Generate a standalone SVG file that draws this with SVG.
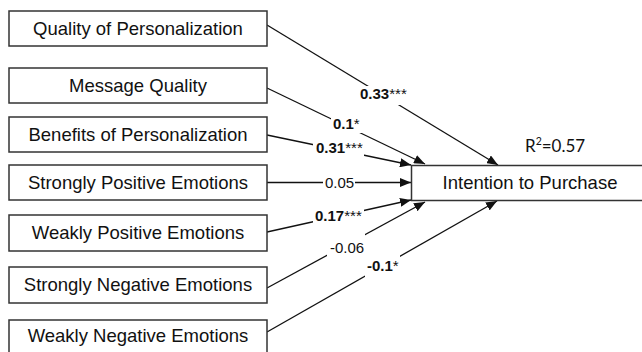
<svg xmlns="http://www.w3.org/2000/svg" width="642" height="352" viewBox="0 0 642 352">
<style>
.box{fill:#fff;stroke:#333;stroke-width:1.5}
.bt{font-family:"Liberation Sans",Arial,sans-serif;font-size:18.5px;fill:#111;text-anchor:middle}
.ln{stroke:#111;stroke-width:1.3;fill:none;marker-end:url(#ah)}
.lb{font-family:"Liberation Sans",Arial,sans-serif;font-size:15px;fill:#111}
.b{font-weight:bold}
.n{font-weight:normal}
.bg{fill:#fff}
</style>
<defs>
<marker id="ah" viewBox="0 0 11 9" refX="11" refY="4.5" markerWidth="11" markerHeight="9" markerUnits="userSpaceOnUse" orient="auto">
<path d="M0,0 L11,4.5 L0,9 z" fill="#111"/>
</marker>
</defs>
<rect width="642" height="352" fill="#fff"/>
<g id="connectors">
<line class="ln" x1="267" y1="25" x2="498" y2="165"/>
<line class="ln" x1="267" y1="88" x2="425" y2="164"/>
<line class="ln" x1="267" y1="135" x2="411" y2="165"/>
<line class="ln" x1="267" y1="182.5" x2="411" y2="182.5"/>
<line class="ln" x1="267" y1="232" x2="411" y2="200"/>
<line class="ln" x1="267" y1="288" x2="425" y2="202"/>
<line class="ln" x1="267" y1="332" x2="497" y2="201"/>
<rect class="bg" x="357" y="86" width="52" height="19"/>
<rect class="bg" x="331" y="115" width="31" height="18"/>
<rect class="bg" x="313" y="141" width="51" height="16"/>
<rect class="bg" x="323" y="176" width="32" height="13"/>
<rect class="bg" x="313" y="208" width="51" height="16"/>
<rect class="bg" x="327" y="234" width="38" height="22"/>
<rect class="bg" x="365" y="255" width="35" height="22"/>
<text class="lb b" x="360" y="99">0.33<tspan class="n">***</tspan></text>
<text class="lb b" x="333" y="129">0.1<tspan class="n">*</tspan></text>
<text class="lb b" x="316" y="153">0.31<tspan class="n">***</tspan></text>
<text class="lb" x="325" y="188">0.05</text>
<text class="lb b" x="315" y="221">0.17<tspan class="n">***</tspan></text>
<text class="lb" x="330" y="252.5">-0.06</text>
<text class="lb b" x="367" y="271">-0.1<tspan class="n">*</tspan></text>
</g>
<g id="n1"><rect class="box" x="9" y="11" width="258" height="35"/><text class="bt" x="138" y="35">Quality of Personalization</text></g>
<g id="n2"><rect class="box" x="9" y="68" width="258" height="35"/><text class="bt" x="138" y="91.8">Message Quality</text></g>
<g id="n3"><rect class="box" x="9" y="117" width="258" height="35"/><text class="bt" x="138" y="140.8">Benefits of Personalization</text></g>
<g id="n4"><rect class="box" x="9" y="165" width="258" height="35"/><text class="bt" x="138" y="188.8">Strongly Positive Emotions</text></g>
<g id="n5"><rect class="box" x="9" y="215" width="258" height="36"/><text class="bt" x="138" y="239.3">Weakly Positive Emotions</text></g>
<g id="n6"><rect class="box" x="9" y="267" width="258" height="36"/><text class="bt" x="138" y="291.3">Strongly Negative Emotions</text></g>
<g id="n7"><rect class="box" x="9" y="320" width="258" height="36"/><text class="bt" x="138" y="341.7">Weakly Negative Emotions</text></g>
<g id="target"><rect class="box" x="411.5" y="165.5" width="240" height="35"/><text class="bt" x="530" y="189">Intention to Purchase</text>
<text x="525" y="152" font-family="Lato, 'Liberation Sans', sans-serif" font-size="17" fill="#111">R<tspan font-size="10.5" dy="-7">2</tspan><tspan dy="7">=0.57</tspan></text></g>
</svg>
